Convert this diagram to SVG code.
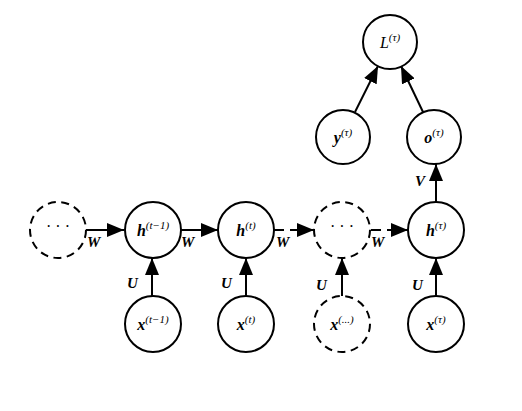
<svg xmlns="http://www.w3.org/2000/svg" width="522" height="411" viewBox="0 0 522 411">
<style>
.n{fill:#fff;stroke:#000;stroke-width:2}
.d{stroke-dasharray:8,5.5}
.e{stroke:#000;stroke-width:2;fill:none}
.ed{stroke-dasharray:10,6}
.t{font-family:"Liberation Serif",serif;font-size:16px;text-anchor:middle}
.b{font-weight:bold;font-style:italic}
.s{font-size:11px;font-style:italic;font-weight:normal}
.lb{font-family:"Liberation Serif",serif;font-size:15px;font-weight:bold;font-style:italic}
</style>
<defs>
<marker id="a" markerUnits="userSpaceOnUse" markerWidth="18" markerHeight="14" refX="17" refY="7" orient="auto">
<path d="M0,0 L17,7 L0,14 Z" fill="#000"/>
</marker>
</defs>
<rect width="522" height="411" fill="#fff"/>
<g id="connectors">
<line class="e" x1="86" y1="230" x2="124" y2="230" marker-end="url(#a)"/>
<line class="e" x1="181" y1="230" x2="218" y2="230" marker-end="url(#a)"/>
<line class="e ed" x1="274" y1="230" x2="314" y2="230" marker-end="url(#a)"/>
<line class="e ed" x1="371" y1="230" x2="408" y2="230" marker-end="url(#a)"/>
<line class="e" x1="152" y1="296" x2="152" y2="258" marker-end="url(#a)"/>
<line class="e" x1="246" y1="296" x2="246" y2="258" marker-end="url(#a)"/>
<line class="e" x1="342" y1="296" x2="342" y2="258" marker-end="url(#a)"/>
<line class="e" x1="436" y1="296" x2="436" y2="258" marker-end="url(#a)"/>
<line class="e" x1="436" y1="202" x2="436" y2="164" marker-end="url(#a)"/>
<line class="e" x1="355" y1="112" x2="378" y2="66" marker-end="url(#a)"/>
<line class="e" x1="423" y1="112" x2="401" y2="66" marker-end="url(#a)"/>
<text class="lb" x="87" y="247">W</text>
<text class="lb" x="181" y="247">W</text>
<text class="lb" x="276" y="247">W</text>
<text class="lb" x="371" y="247">W</text>
<text class="lb" x="127" y="288">U</text>
<text class="lb" x="221" y="288">U</text>
<text class="lb" x="316" y="290">U</text>
<text class="lb" x="412" y="290">U</text>
<text class="lb" x="415" y="186">V</text>
</g>
<g id="n_dots_left"><circle class="n d" cx="58" cy="230" r="28"/><text class="t" x="58" y="232">· · ·</text></g>
<g id="n_h_tm1"><circle class="n" cx="153" cy="230" r="28"/><text class="t" x="153" y="236"><tspan class="b">h</tspan><tspan class="s" dy="-7">(t−1)</tspan></text></g>
<g id="n_h_t"><circle class="n" cx="246" cy="230" r="28"/><text class="t" x="246" y="236"><tspan class="b">h</tspan><tspan class="s" dy="-7">(t)</tspan></text></g>
<g id="n_dots_mid"><circle class="n d" cx="342" cy="230" r="28"/><text class="t" x="342" y="232">· · ·</text></g>
<g id="n_h_tau"><circle class="n" cx="436" cy="230" r="28"/><text class="t" x="436" y="236"><tspan class="b">h</tspan><tspan class="s" dy="-7">(τ)</tspan></text></g>
<g id="n_x_tm1"><circle class="n" cx="153" cy="324" r="28"/><text class="t" x="153" y="330"><tspan class="b">x</tspan><tspan class="s" dy="-7">(t−1)</tspan></text></g>
<g id="n_x_t"><circle class="n" cx="246" cy="324" r="28"/><text class="t" x="246" y="330"><tspan class="b">x</tspan><tspan class="s" dy="-7">(t)</tspan></text></g>
<g id="n_x_dots"><circle class="n d" cx="342" cy="324" r="28"/><text class="t" x="342" y="330"><tspan class="b">x</tspan><tspan class="s" dy="-7">(...)</tspan></text></g>
<g id="n_x_tau"><circle class="n" cx="436" cy="324" r="28"/><text class="t" x="436" y="330"><tspan class="b">x</tspan><tspan class="s" dy="-7">(τ)</tspan></text></g>
<g id="n_y_tau"><circle class="n" cx="343" cy="137" r="27"/><text class="t" x="343" y="143"><tspan class="b">y</tspan><tspan class="s" dy="-7">(τ)</tspan></text></g>
<g id="n_o_tau"><circle class="n" cx="434" cy="137" r="27"/><text class="t" x="434" y="143"><tspan class="b">o</tspan><tspan class="s" dy="-7">(τ)</tspan></text></g>
<g id="n_L_tau"><circle class="n" cx="390" cy="42" r="27"/><text class="t" x="390" y="48"><tspan font-style="italic">L</tspan><tspan class="s" dy="-7">(τ)</tspan></text></g>
</svg>
